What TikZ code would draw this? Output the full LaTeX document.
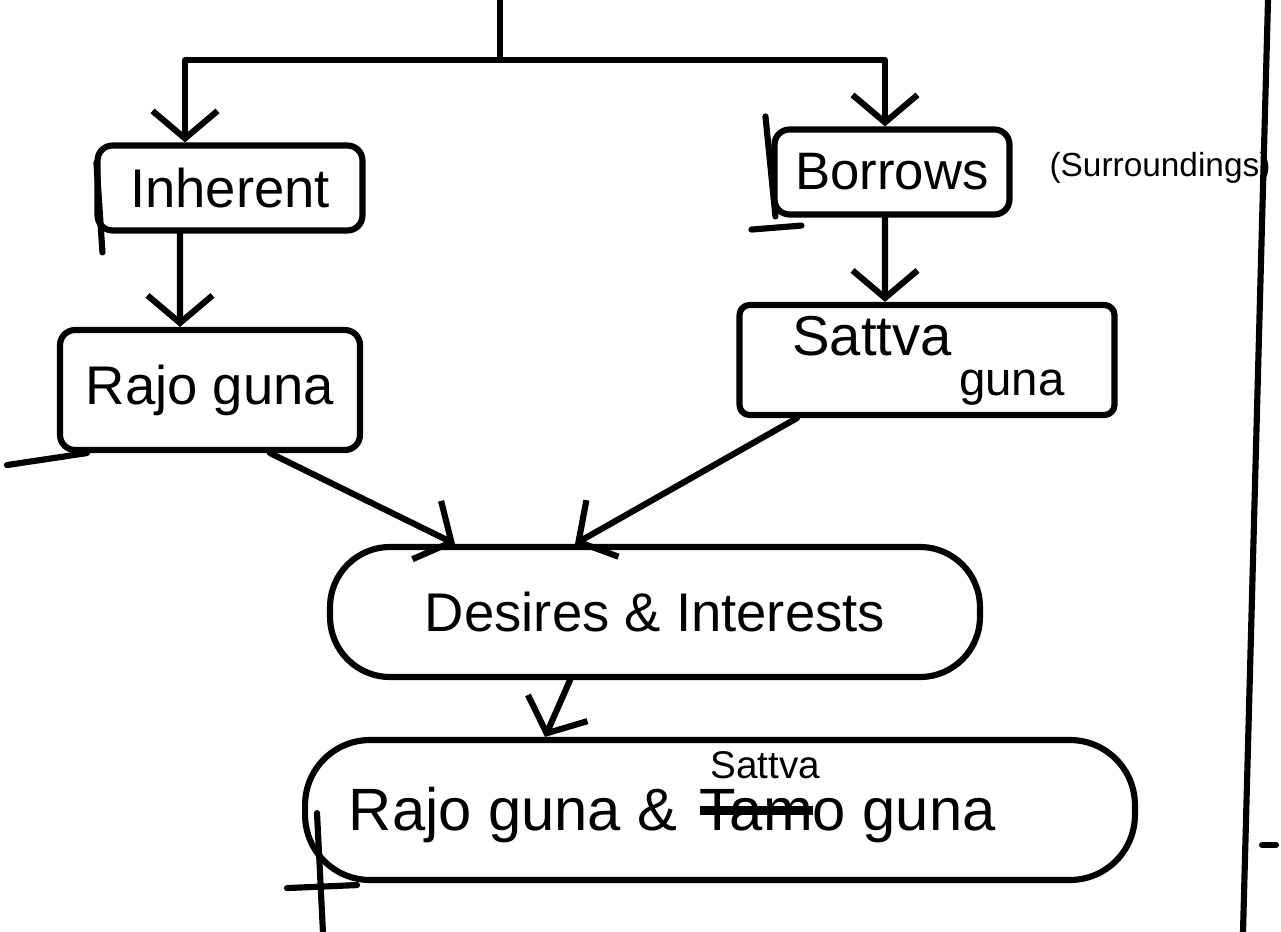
\documentclass[tikz,border=0pt]{standalone}
\usepackage{fontspec}
\setmainfont{Liberation Sans}
\usetikzlibrary{arrows.meta,positioning}
\tikzset{
	gbox/.style={draw, rounded corners=0.3cm, inner sep=0pt, font=\fontsize{30}{34}\selectfont},
	flow/.style={-{Straight Barb[length=0.55cm,width=1.3cm]}}
}
\newcommand{\scratchout}[1]{\sbox0{#1}\rlap{\rule[0.25em]{\wd0}{0.16em}}\usebox0}

\begin{document}
\begin{tikzpicture}[x=0.02cm, y=-0.02cm, line width=3.5pt, line cap=round, line join=round]

	\useasboundingbox (0,0) rectangle (1281,932);

	\node[gbox, minimum width=5.3cm, minimum height=1.7cm, font=\fontsize{31}{34}\selectfont] (inh) at (230,188) {Inherent};
	\node[gbox, minimum width=6cm, minimum height=2.4cm, font=\fontsize{31}{34}\selectfont] (raj) at (210,390) {Rajo guna};
	\node[gbox, minimum width=4.7cm, minimum height=1.7cm] (bor) at (892,172) {Borrows};
	\node[font=\fontsize{19}{22}\selectfont] (surr) at (1160,168) {(Surroundings)};
	\node[gbox, rounded corners=0.2cm, minimum width=7.5cm, minimum height=2.2cm] (sat) at (927,360) {};
	\node[font=\fontsize{32}{36}\selectfont] (satt) at (872,336) {Sattva};
	\node[font=\fontsize{27}{30}\selectfont] (satg) at (1012,388) {guna};
	\node[gbox, rounded corners=1.2cm, minimum width=13cm, minimum height=2.6cm, font=\fontsize{31}{34}\selectfont] (des) at (655,612) {Desires \& Interests};
	\node[gbox, rounded corners=1.3cm, minimum width=16.6cm, minimum height=2.8cm] (bot) at (720,810) {};
	\node[font=\fontsize{34}{38}\selectfont, anchor=base west] (botl) at (340,830) {Rajo guna \&};
	\node[font=\fontsize{34}{38}\selectfont, anchor=base west] (botr) at ([xshift=0.25em]botl.base east) {\scratchout{Tam}o guna};
	\node[font=\fontsize{22}{26}\selectfont, anchor=south west] (ins) at ([xshift=0.6em,yshift=-0.15cm]botr.north west) {Sattva};

	% loose strokes
	\draw (inh.north west) ++(2,20) -- ++(6,90);
	\draw (raj.south west) ++(-50,12) -- ++(80,-12);
	\draw (bor.north west) ++(-6,-10) -- ++(10,100);
	\draw (bor.south west) ++(-20,12) -- ++(50,-4);
	\draw (bot.south west) ++(15,-70) -- ++(6,120);
	\draw (bot.south west) ++(-15,5) -- ++(70,-3);
	\draw (1268,0) -- (1243,932);
	\draw (1262,845) -- (1276,845);

	% split
	\coordinate (src) at (500,0);
	\coordinate (split) at (500,60);
	\draw (src) -- (split);
	\draw[flow] (split) -| ([xshift=-0.9cm]inh.north);
	\draw[flow] (split) -| ([xshift=-0.14cm]bor.north);

	\draw[flow] ([xshift=-1cm]inh.south) -- ([xshift=-0.6cm]raj.north);
	\draw[flow] ([xshift=-0.14cm]bor.south) -- ([xshift=-0.84cm]sat.north);

	% into desires
	\draw[flow] ([xshift=1.2cm]raj.south) -- ([xshift=-4cm]des.north);
	\draw[flow] ([xshift=-2.6cm]sat.south) -- ([xshift=-1.6cm]des.north);

	\draw[flow] ([xshift=-1.7cm]des.south) -- ([xshift=-3.5cm]bot.north);

\end{tikzpicture}
\end{document}
